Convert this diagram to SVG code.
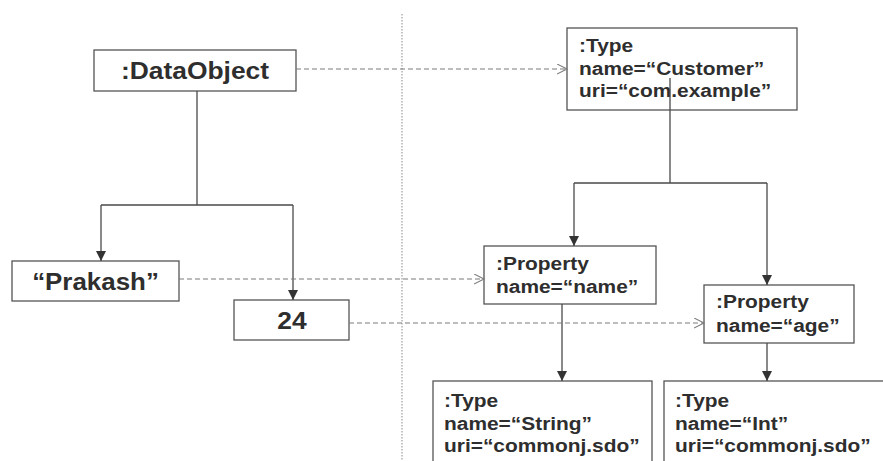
<svg xmlns="http://www.w3.org/2000/svg" width="883" height="461" viewBox="0 0 883 461">
  <style>
    .box { fill: #ffffff; stroke: #555555; stroke-width: 1.3; }
    .link { fill: none; stroke: #4a4a4a; stroke-width: 1.3; }
    .ref { fill: none; stroke: #7a7a7a; stroke-width: 1.2; stroke-dasharray: 5 3; }
    .divider { fill: none; stroke: #8a8a8a; stroke-width: 1; stroke-dasharray: 1.5 1.5; }
    .big { font-family: "Liberation Sans", Arial, sans-serif; font-weight: bold; font-size: 24px; fill: #2e2e2e; text-anchor: middle; }
    .small { font-family: "Liberation Sans", Arial, sans-serif; font-weight: bold; font-size: 19px; fill: #2e2e2e; }
  </style>
  <defs>
    <marker id="solidHead" markerUnits="userSpaceOnUse" markerWidth="12" markerHeight="12" refX="10" refY="5" orient="auto">
      <path d="M0,0 L10,5 L0,10 Z" fill="#333333"/>
    </marker>
    <marker id="openHead" markerUnits="userSpaceOnUse" markerWidth="12" markerHeight="12" refX="10" refY="5" orient="auto">
      <path d="M0,0 L10,5 L0,10" fill="none" stroke="#7a7a7a" stroke-width="1.1"/>
    </marker>
  </defs>

  <!-- instance / metadata divider -->
  <line class="divider" x1="402" y1="14" x2="402" y2="461"/>

  <g id="dataObject">
    <rect class="box" x="94" y="50" width="202" height="41"/>
    <text class="big" transform="translate(195,79) scale(1.1,1)">:DataObject</text>
  </g>

  <g id="valuePrakash">
    <rect class="box" x="12" y="261" width="167" height="40"/>
    <text class="big" transform="translate(95.5,290) scale(1.08,1)">“Prakash”</text>
  </g>

  <g id="value24">
    <rect class="box" x="234" y="300" width="115" height="40"/>
    <text class="big" transform="translate(292,329) scale(1.1,1)">24</text>
  </g>

  <g id="typeCustomer">
    <rect class="box" x="567" y="28" width="230" height="82"/>
    <text class="small" transform="translate(579,52) scale(1.1,1)">:Type</text>
    <text class="small" transform="translate(579,75) scale(1.1,1)">name=“Customer”</text>
    <text class="small" transform="translate(579,97) scale(1.1,1)">uri=“com.example”</text>
  </g>

  <g id="propertyName">
    <rect class="box" x="484" y="246" width="172" height="58"/>
    <text class="small" transform="translate(496,270) scale(1.1,1)">:Property</text>
    <text class="small" transform="translate(496,293) scale(1.1,1)">name=“name”</text>
  </g>

  <g id="propertyAge">
    <rect class="box" x="704" y="285" width="150" height="58"/>
    <text class="small" transform="translate(716,308) scale(1.1,1)">:Property</text>
    <text class="small" transform="translate(716,332) scale(1.1,1)">name=“age”</text>
  </g>

  <g id="typeString">
    <rect class="box" x="433" y="381" width="219" height="100"/>
    <text class="small" transform="translate(444,407) scale(1.1,1)">:Type</text>
    <text class="small" transform="translate(444,430) scale(1.1,1)">name=“String”</text>
    <text class="small" transform="translate(444,452) scale(1.1,1)">uri=“commonj.sdo”</text>
  </g>

  <g id="typeInt">
    <rect class="box" x="664" y="381" width="240" height="100"/>
    <text class="small" transform="translate(675,407) scale(1.1,1)">:Type</text>
    <text class="small" transform="translate(675,430) scale(1.1,1)">name=“Int”</text>
    <text class="small" transform="translate(675,452) scale(1.1,1)">uri=“commonj.sdo”</text>
  </g>

  <!-- connectors, drawn last: the Customer type line runs up into its box -->
  <g id="connectors">
    <path class="link" d="M197,91 V205 M101,205 H293"/>
    <path class="link" d="M101,205 V261" marker-end="url(#solidHead)"/>
    <path class="link" d="M293,205 V300" marker-end="url(#solidHead)"/>
    <path class="link" d="M670,78 V183 M574,183 H767"/>
    <path class="link" d="M574,183 V246" marker-end="url(#solidHead)"/>
    <path class="link" d="M767,183 V285" marker-end="url(#solidHead)"/>
    <path class="link" d="M562,304 V381" marker-end="url(#solidHead)"/>
    <path class="link" d="M767,343 V381" marker-end="url(#solidHead)"/>
    <path class="ref" d="M296,69 H567" marker-end="url(#openHead)"/>
    <path class="ref" d="M179,279 H484" marker-end="url(#openHead)"/>
    <path class="ref" d="M349,323 H704" marker-end="url(#openHead)"/>
  </g>
</svg>
